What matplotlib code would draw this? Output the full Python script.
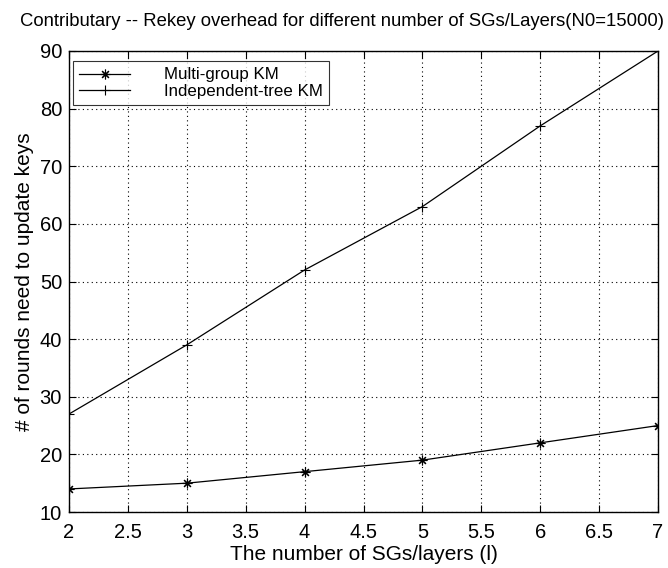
import matplotlib
matplotlib.use("Agg")
import matplotlib.pyplot as plt

plt.rcParams['font.family'] = ['Liberation Sans', 'DejaVu Sans']

layers = [2, 3, 4, 5, 6, 7]
multi_group = [14, 15, 17, 19, 22, 25]
independent_tree = [27, 39, 52, 63, 77, 90]
x_ticks = [2, 2.5, 3, 3.5, 4, 4.5, 5, 5.5, 6, 6.5, 7]
x_tick_labels = ['2', '2.5', '3', '3.5', '4', '4.5', '5', '5.5', '6', '6.5', '7']
y_ticks = [10, 20, 30, 40, 50, 60, 70, 80, 90]

fig = plt.figure(figsize=(6.68, 5.68), dpi=100)
ax = fig.add_axes([69 / 668, 56 / 568, 589 / 668, 461 / 568])

# matlab style '*' = plus and cross together
ax.plot(layers, multi_group, color='black', lw=0.9, marker=(8, 2, 0), ms=7,
        mew=0.8, label='Multi-group KM')
ax.plot(layers, independent_tree, color='black', lw=0.9, marker='+', ms=7,
        mew=0.8, label='Independent-tree KM')

ax.set_xlim(2, 7)
ax.set_ylim(10, 90)
ax.set_xticks(x_ticks)
ax.set_xticklabels(x_tick_labels)
ax.set_yticks(y_ticks)
ax.grid(True, color='black', linestyle=(0, (1, 3)), linewidth=0.8)
ax.tick_params(direction='in', top=True, right=True, length=5, width=0.8,
               labelsize=14.5, pad=5)
ax.tick_params(axis='x', pad=8)
for s in ax.spines.values():
    s.set_linewidth(1.0)

ax.set_xlabel('The number of SGs/layers (l)', fontsize=15, labelpad=2)
ax.set_ylabel('# of rounds need to update keys', fontsize=15, labelpad=4)
fig.text(342 / 668, 1 - 22 / 568, 'Contributary -- Rekey overhead for different number of SGs/Layers(N0=15000)',
         ha='center', va='center', fontsize=13.3)

leg = ax.legend(loc='upper left', bbox_to_anchor=(4 / 589, 1 - 10 / 461),
                fontsize=12.2, frameon=True, fancybox=False,
                edgecolor='black', handlelength=3.0, handletextpad=2.0,
                borderpad=0.38, labelspacing=0.08, borderaxespad=0.0)
leg.get_frame().set_linewidth(0.8)

fig.savefig('out.png', dpi=100)
